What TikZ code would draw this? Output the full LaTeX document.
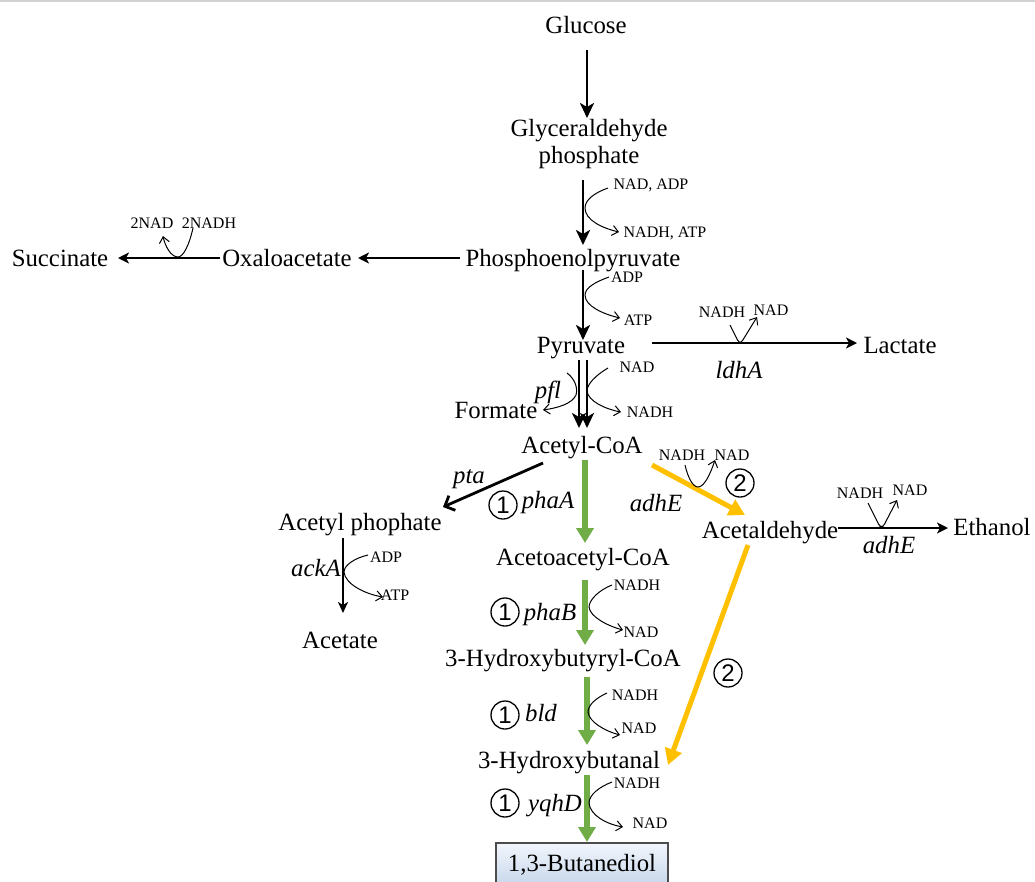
\documentclass[tikz,border=0pt]{standalone}
\usepackage{fontspec}
\setmainfont{Liberation Serif}
\newfontfamily\circfont{Liberation Sans}
\usetikzlibrary{arrows.meta,calc}
\definecolor{pgreen}{HTML}{70AD47}
\definecolor{porange}{HTML}{FFC000}
\definecolor{boxtop}{HTML}{F2F6FC}
\definecolor{boxbot}{HTML}{B9CDE5}
\tikzset{
  met/.style={inner sep=0pt, font=\fontsize{24.8}{27}\selectfont, text height=19pt, text depth=2pt},
  enz/.style={inner sep=0pt, font=\fontsize{24.8}{27}\selectfont\itshape, text height=19pt, text depth=2pt},
  cof/.style={inner sep=0pt, font=\fontsize{16}{18}\selectfont, text height=13pt, text depth=2pt},
  mainarr/.style={line width=2.8pt, -{Stealth[length=15pt,width=14pt,inset=4pt]}},
  harr/.style={line width=2.8pt, -{Stealth[length=11pt,width=11pt,inset=3pt]}},
  greenarr/.style={draw=pgreen, line width=6.5pt, -{Triangle[length=15pt,width=17pt]}},
  orangearr/.style={draw=porange, line width=5pt, -{Triangle[length=16pt,width=17pt]}},
  side/.style={line width=1pt, -{Straight Barb[length=6pt,width=10pt]}},
  num/.style={circle, draw, line width=1.3pt, inner sep=0pt, minimum size=28pt, font=\circfont\fontsize{24}{24}\selectfont},
}
\begin{document}
\begin{tikzpicture}[x=1pt,y=-1pt]
\useasboundingbox (0,0) rectangle (1035,881);
\fill[white] (0,0) rectangle (1035,881);
\draw[black!18, line width=2pt] (0,1) -- (1035,1);

% metabolites
\node[met] (glc) at (586,25) {Glucose};
\node[inner sep=0pt, font=\fontsize{24.8}{27}\selectfont, align=center] (gap) at (589,144) {Glyceraldehyde\\phosphate};
\node[met] (pep) at (573,258) {Phosphoenolpyruvate};
\node[met] (oaa) at (287,258) {Oxaloacetate};
\node[met] (suc) at (60,258) {Succinate};
\node[met] (pyr) at (581,345) {Pyruvate};
\node[met] (lac) at (900,345) {Lactate};
\node[met] (form) at (496,410) {Formate};
\node[met] (accoa) at (582,445) {Acetyl-CoA};
\node[met] (acp) at (360,522) {Acetyl phophate};
\node[met] (acet) at (340,640) {Acetate};
\node[met] (aacoa) at (583,557) {Acetoacetyl-CoA};
\node[met] (hbcoa) at (563,658) {3-Hydroxybutyryl-CoA};
\node[met] (hbal) at (569,760) {3-Hydroxybutanal};
\node[met] (acald) at (770,530) {Acetaldehyde};
\node[met] (eth) at (992,527) {Ethanol};
\node[inner sep=0pt, font=\fontsize{24.8}{27}\selectfont, text height=4.5pt, text depth=4.5pt, draw=black!70, line width=1.5pt, top color=boxtop, bottom color=boxbot, minimum width=172pt, minimum height=56pt] (bdo) at (582,871) {1,3-Butanediol};

% main black arrows
\draw[mainarr] ([shift={(1,25)}]glc.center) -- ([shift={(-2,-26)}]gap.center);
\draw[mainarr] ([shift={(-6,36)}]gap.center) -- ([shift={(10,-13)}]pep.center);
\draw[harr] ([shift={(-113,0)}]pep.center) -- ([shift={(71,0)}]oaa.center);
\draw[harr] ([shift={(-67,0)}]oaa.center) -- ([shift={(58,0)}]suc.center);
\draw[mainarr] ([shift={(10,12)}]pep.center) -- ([shift={(2,-5)}]pyr.center);
\draw[harr] ([shift={(71,-2)}]pyr.center) -- ([shift={(-43,-2)}]lac.center);
\draw[mainarr] ([shift={(-2,15)}]pyr.center) -- ([shift={(-3,-17)}]accoa.center);
\draw[mainarr] ([shift={(6,15)}]pyr.center) -- ([shift={(5,-17)}]accoa.center);
\draw[line width=2.8pt, -{Straight Barb[length=8pt,width=16pt]}] ([shift={(-39,18)}]accoa.center) -- ([shift={(83,-15)}]acp.center);
\draw[line width=2.4pt, -{Stealth[length=11pt,width=10pt,inset=3pt]}] ([shift={(-17,16)}]acp.center) -- ([shift={(3,-27)}]acet.center);
\draw[harr] ([shift={(68,-2)}]acald.center) -- ([shift={(-44,1)}]eth.center);

% green pathway
\draw[greenarr] ([shift={(3,15)}]accoa.center) -- ([shift={(2,-14)}]aacoa.center);
\draw[greenarr] ([shift={(2,23)}]aacoa.center) -- ([shift={(22,-13)}]hbcoa.center);
\draw[greenarr] ([shift={(24,19)}]hbcoa.center) -- ([shift={(18,-15)}]hbal.center);
\draw[greenarr] ([shift={(18,15)}]hbal.center) -- ([shift={(5,-29)}]bdo.center);

% orange pathway
\draw[orangearr] ([shift={(70,20)}]accoa.center) -- ([shift={(-25,-15)}]acald.center);
\draw[orangearr] ([shift={(-22,15)}]acald.center) -- ([shift={(99,5)}]hbal.center);

% cofactor labels
\node[cof] (c1a) at (651,184) {NAD, ADP};
\node[cof] (c1b) at (665,232) {NADH, ATP};
\node[cof] (c2a) at (627,277) {ADP};
\node[cof] (c2b) at (638,320) {ATP};
\node[cof] (c3a) at (152,223) {2NAD};
\node[cof] (c3b) at (209,223) {2NADH};
\node[cof] (c4a) at (722,312) {NADH};
\node[cof] (c4b) at (771,310) {NAD};
\node[cof] (c5a) at (637,367) {NAD};
\node[cof] (c5b) at (650,412) {NADH};
\node[cof] (c6a) at (386,557) {ADP};
\node[cof] (c6b) at (395,595) {ATP};
\node[cof] (c7a) at (637,585) {NADH};
\node[cof] (c7b) at (641,632) {NAD};
\node[cof] (c8a) at (635,695) {NADH};
\node[cof] (c8b) at (639,728) {NAD};
\node[cof] (c9a) at (637,783) {NADH};
\node[cof] (c9b) at (650,823) {NAD};
\node[cof] (c10a) at (682,455) {NADH};
\node[cof] (c10b) at (732,455) {NAD};
\node[cof] (c11a) at (860,493) {NADH};
\node[cof] (c11b) at (910,490) {NAD};

% enzyme labels
\node[enz] (e1) at (548,390) {pfl};
\node[enz] (e2) at (739,370) {ldhA};
\node[enz] (e3) at (469,475) {pta};
\node[enz] (e4) at (316,568) {ackA};
\node[enz] (e5) at (548,500) {phaA};
\node[enz] (e6) at (550,612) {phaB};
\node[enz] (e7) at (541,713) {bld};
\node[enz] (e8) at (555,803) {yqhD};
\node[enz] (e9) at (656,503) {adhE};
\node[enz] (e10) at (889,545) {adhE};

% circled numbers
\node[num] (n1) at (503,505) {1};
\node[num] (n2) at (505,612) {1};
\node[num] (n3) at (505,715) {1};
\node[num] (n4) at (505,803) {1};
\node[num] (n5) at (740,483) {2};
\node[num] (n6) at (728,673) {2};

% side (cofactor) curves
\draw[side] (608,188) .. controls (594,193) and (585,200) .. (585,208) .. controls (585,220) and (602,228) .. (619,232);
\draw[side] (609,277) .. controls (595,282) and (585,288) .. (585,295) .. controls (585,306) and (603,314) .. (620,318);
\draw[side] (193,228) .. controls (189,246) and (183,257) .. (178,257) .. controls (171,257) and (165,246) .. (163,236);
\draw[side, rounded corners=3pt] (730,325) -- (739,343) -- (741,343) -- (757,317);
\draw[side] (567,373) .. controls (575,379) and (578,388) .. (576,395) .. controls (572,404) and (557,408) .. (543,410);
\draw[side] (608,368) .. controls (596,375) and (587,384) .. (587,391) .. controls (588,401) and (605,409) .. (621,412);
\draw[side] (368,555) .. controls (355,558) and (344,565) .. (344,572) .. controls (345,584) and (365,594) .. (383,597);
\draw[side] (612,585) .. controls (599,590) and (589,600) .. (589,607) .. controls (590,617) and (608,626) .. (623,630);
\draw[side] (607,693) .. controls (596,698) and (588,705) .. (588,712) .. controls (589,722) and (605,731) .. (620,735);
\draw[side] (612,782) .. controls (599,787) and (589,795) .. (589,803) .. controls (590,815) and (606,824) .. (623,827);
\draw[side] (685,465) .. controls (688,478) and (693,487) .. (698,487) .. controls (704,487) and (710,475) .. (715,460);
\draw[side, rounded corners=3pt] (868,503) -- (880,527) -- (883,527) -- (897,500);
\end{tikzpicture}
\end{document}
